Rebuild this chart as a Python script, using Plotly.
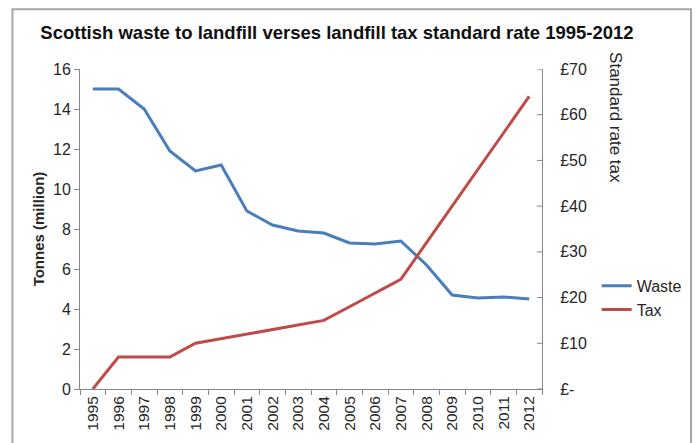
import plotly.graph_objects as go

years = [str(y) for y in range(1995, 2013)]
waste = [15.0, 15.0, 14.0, 11.9, 10.9, 11.2, 8.9, 8.2, 7.9, 7.8, 7.3, 7.25, 7.4, 6.2, 4.7, 4.55, 4.6, 4.5]
tax = [0, 7, 7, 7, 10, 11, 12, 13, 14, 15, 18, 21, 24, 32, 40, 48, 56, 64]
tax_ticks = [0, 10, 20, 30, 40, 50, 60, 70]
tax_labels = ["£-", "£10", "£20", "£30", "£40", "£50", "£60", "£70"]

FONT = "Arial, Liberation Sans, sans-serif"
AX = "#868686"

fig = go.Figure()
fig.add_trace(go.Scatter(x=years, y=waste, name="Waste", mode="lines",
                         line=dict(color="#4A7EBB", width=3)))
fig.add_trace(go.Scatter(x=years, y=tax, name="Tax", mode="lines", yaxis="y2",
                         line=dict(color="#BE4B48", width=3)))

fig.update_layout(
    width=699, height=443,
    margin=dict(l=80, r=154, t=69, b=52),
    paper_bgcolor="white", plot_bgcolor="white",
    font=dict(family=FONT, size=15, color="#262626"),
    title=dict(text="<b>Scottish waste to landfill verses landfill tax standard rate 1995-2012</b>",
               x=337/699, xanchor="center", y=1-33/443, yanchor="middle",
               font=dict(size=18.5, color="#111111")),
    xaxis=dict(type="category", showgrid=False, showline=True, linecolor=AX, linewidth=1,
               ticks="outside", tickson="boundaries", ticklen=5, tickcolor=AX,
               tickangle=-90, tickfont=dict(size=15.5), range=[-0.5, 17.5]),
    yaxis=dict(range=[0, 16], dtick=2, showgrid=False, showline=True, linecolor=AX,
               ticks="outside", ticklen=5, tickcolor=AX, zeroline=False,
               tickfont=dict(size=16),
               title=dict(text="<b>Tonnes (million)</b>", font=dict(size=15), standoff=4)),
    yaxis2=dict(range=[0, 70], overlaying="y", side="right", tickvals=tax_ticks,
                ticktext=tax_labels, showgrid=False, showline=True, linecolor=AX,
                ticks="outside", ticklen=14, tickcolor="rgba(255,255,255,0)", zeroline=False,
                tickfont=dict(size=16)),
    legend=dict(x=(600-80)/465, y=(391-270)/322, xanchor="left", yanchor="top",
                font=dict(size=16), itemwidth=30, tracegroupgap=0,
                bgcolor="rgba(0,0,0,0)"),
    annotations=[dict(text="Standard rate tax", textangle=90, xref="paper", yref="paper",
                      x=(619-80)/465, y=(391-50)/322, xanchor="center", yanchor="top",
                      showarrow=False, font=dict(size=17))],
    shapes=[dict(type="rect", xref="paper", yref="paper",
                 x0=(12-80)/465, x1=(695-80)/465, y0=-0.3, y1=(391-9)/322,
                 line=dict(color="#A6A6A6", width=2), fillcolor="rgba(0,0,0,0)", layer="below")]
    + [dict(type="line", xref="paper", yref="y2", x0=1, x1=1 - 5/465, y0=v, y1=v,
            line=dict(color=AX, width=1)) for v in tax_ticks],
)

fig.write_html("out.html")
